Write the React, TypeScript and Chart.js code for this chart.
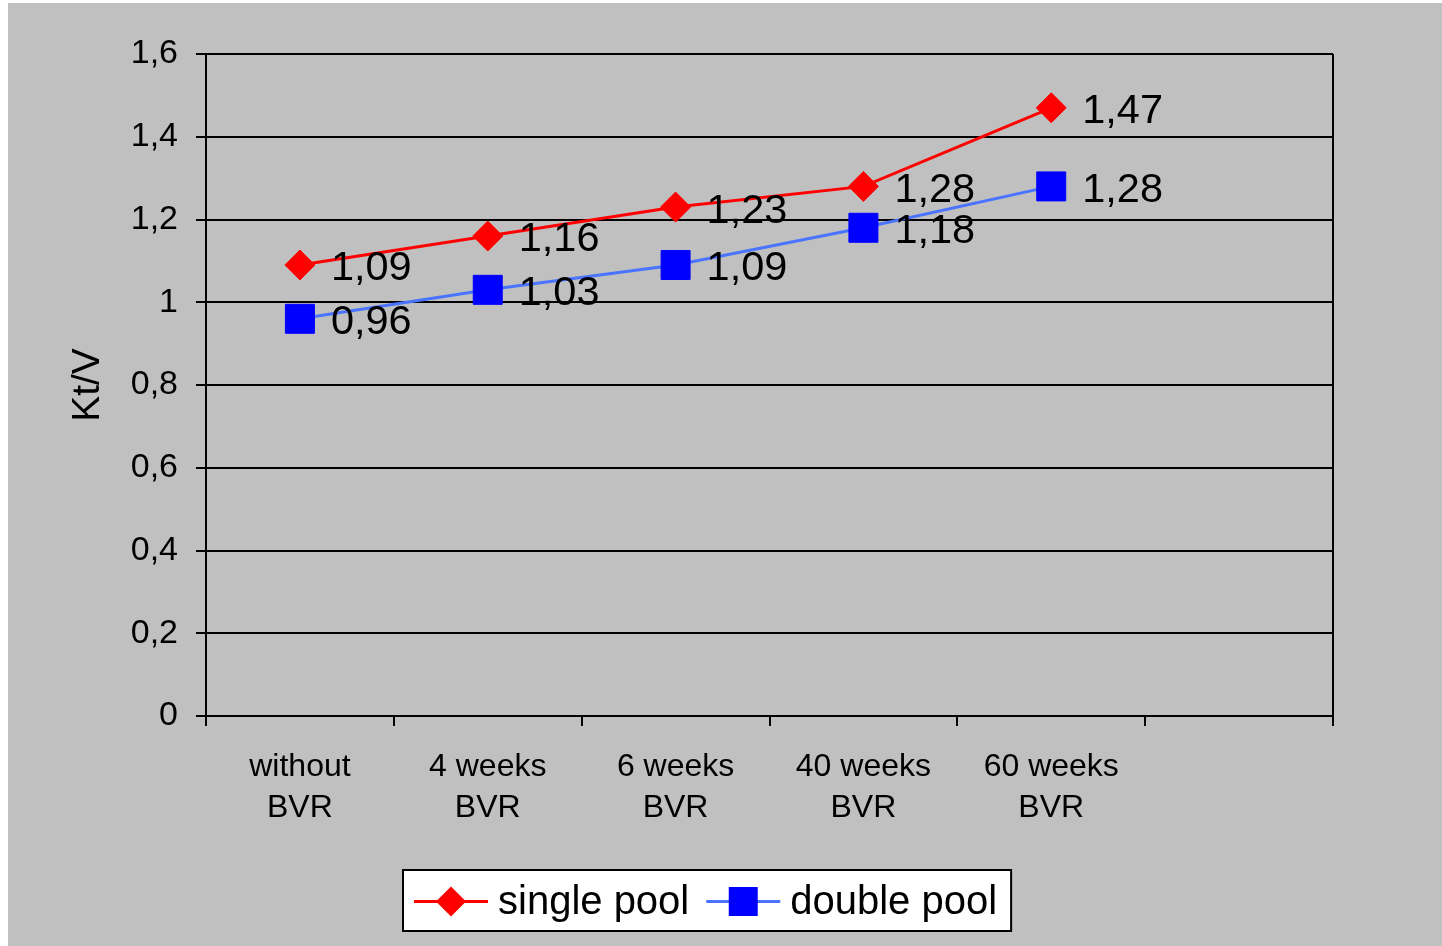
import React, { useEffect, useRef } from "react";
import { Chart, registerables } from "chart.js";

Chart.register(...registerables);

const categories: (string | string[])[] = [
  ["without", "BVR"],
  ["4 weeks", "BVR"],
  ["6 weeks", "BVR"],
  ["40 weeks", "BVR"],
  ["60 weeks", "BVR"],
  "",
];
const singlePool = [1.09, 1.16, 1.23, 1.28, 1.47];
const doublePool = [0.96, 1.03, 1.09, 1.18, 1.28];
const seriesNames = ["single pool", "double pool"];
const yTitle = "Kt/V";
const yMin = 0;
const yMax = 1.6;
const yStep = 0.2;

const FONT = "'Liberation Sans', Arial, sans-serif";
const fmt = (v: number) => String(Math.round(v * 100) / 100).replace(".", ",");

const dataLabelPlugin = {
  id: "dataLabels",
  afterDatasetsDraw(chart: any) {
    const ctx = chart.ctx;
    ctx.save();
    ctx.font = `41.5px ${FONT}`;
    ctx.fillStyle = "#000";
    ctx.textAlign = "left";
    ctx.textBaseline = "middle";
    chart.data.datasets.forEach((ds: any, di: number) => {
      const meta = chart.getDatasetMeta(di);
      meta.data.forEach((pt: any, i: number) => {
        ctx.fillText(fmt(ds.data[i]), pt.x + 31, pt.y + 4);
      });
    });
    ctx.restore();
  },
};

const frameBorderPlugin = {
  id: "frameBorder",
  afterDatasetsDraw(chart: any) {
    const { ctx, chartArea } = chart;
    ctx.save();
    ctx.strokeStyle = "#000";
    ctx.lineWidth = 2;
    ctx.beginPath();
    ctx.moveTo(chartArea.right, chartArea.top);
    ctx.lineTo(chartArea.right, chartArea.bottom);
    ctx.stroke();
    ctx.restore();
  },
};

function drawMarker(ctx: CanvasRenderingContext2D, style: string, r: number, x: number, y: number) {
  ctx.beginPath();
  if (style === "rectRot") {
    ctx.moveTo(x, y - r);
    ctx.lineTo(x + r, y);
    ctx.lineTo(x, y + r);
    ctx.lineTo(x - r, y);
    ctx.closePath();
  } else {
    const s = r * Math.SQRT1_2;
    ctx.rect(x - s, y - s, 2 * s, 2 * s);
  }
  ctx.fill();
}

const customLegendPlugin = {
  id: "customLegend",
  afterDraw(chart: any) {
    const ctx = chart.ctx;
    const boxLeft = 395;
    const boxTop = 867;
    const boxH = 61;
    const cy = boxTop + boxH / 2 + 1;
    ctx.save();
    ctx.font = `40px ${FONT}`;
    let x = boxLeft + 11;
    const items = chart.data.datasets.map((ds: any) => ({
      text: ds.label,
      line: ds.borderColor,
      fill: ds.pointBackgroundColor,
      style: ds.pointStyle,
      radius: ds.pointRadius,
      w: ctx.measureText(ds.label).width,
    }));
    const lineLen = 74;
    let total = 11;
    items.forEach((it: any, i: number) => {
      total += lineLen + 10 + it.w + (i < items.length - 1 ? 17 : 14);
    });
    ctx.fillStyle = "#fff";
    ctx.fillRect(boxLeft, boxTop, total, boxH);
    ctx.strokeStyle = "#000";
    ctx.lineWidth = 2;
    ctx.strokeRect(boxLeft, boxTop, total, boxH);
    items.forEach((it: any) => {
      ctx.strokeStyle = it.line;
      ctx.lineWidth = 3;
      ctx.beginPath();
      ctx.moveTo(x, cy);
      ctx.lineTo(x + lineLen, cy);
      ctx.stroke();
      ctx.fillStyle = it.fill;
      drawMarker(ctx, it.style, it.radius, x + lineLen / 2, cy);
      ctx.fillStyle = "#000";
      ctx.textAlign = "left";
      ctx.textBaseline = "middle";
      ctx.fillText(it.text, x + lineLen + 10, cy + 1);
      x += lineLen + 10 + it.w + 17;
    });
    ctx.restore();
  },
};

export default function App() {
  const ref = useRef<HTMLCanvasElement | null>(null);
  useEffect(() => {
    document.body.style.margin = "0";
    document.body.style.overflow = "hidden";
    const canvas = ref.current!;
    const chart = new Chart(canvas, {
      type: "line",
      data: {
        labels: categories,
        datasets: [
          {
            label: seriesNames[0],
            data: singlePool,
            borderColor: "#FF0000",
            backgroundColor: "#FF0000",
            borderWidth: 3,
            pointStyle: "rectRot",
            pointRadius: 15,
            pointHoverRadius: 15,
            pointBackgroundColor: "#FF0000",
            pointBorderColor: "#FF0000",
            pointBorderWidth: 1,
            tension: 0,
          },
          {
            label: seriesNames[1],
            data: doublePool,
            borderColor: "#4A73FF",
            backgroundColor: "#0000FF",
            borderWidth: 3,
            pointStyle: "rect",
            pointRadius: 20.5,
            pointHoverRadius: 20.5,
            pointBackgroundColor: "#0000FF",
            pointBorderColor: "#0000FF",
            pointBorderWidth: 1,
            tension: 0,
          },
        ],
      },
      options: {
        responsive: false,
        animation: false,
        devicePixelRatio: 1,
        layout: { padding: { left: 0, top: 51, right: 109, bottom: 110 } },
        plugins: {
          legend: { display: false },
          tooltip: { enabled: false },
        },
        scales: {
          x: {
            type: "category",
            offset: true,
            grid: {
              display: true,
              drawOnChartArea: false,
              drawTicks: true,
              tickLength: 10,
              color: "#000",
              lineWidth: 2,
              offset: true,
            },
            border: { display: true, color: "#000", width: 2 },
            ticks: {
              color: "#000",
              font: { family: FONT, size: 32, lineHeight: 1.28 },
              padding: 21,
              maxRotation: 0,
              minRotation: 0,
              autoSkip: false,
            },
            afterFit: (scale: any) => {
              scale.height = 120;
            },
          },
          y: {
            min: yMin,
            max: yMax,
            grid: {
              display: true,
              drawTicks: true,
              tickLength: 10,
              color: "#000",
              lineWidth: 2,
            },
            border: { display: true, color: "#000", width: 2 },
            ticks: {
              stepSize: yStep,
              color: "#000",
              font: { family: FONT, size: 34 },
              padding: 18,
              callback: (v: any) => fmt(Number(v)),
            },
            title: {
              display: true,
              text: yTitle,
              color: "#000",
              font: { family: FONT, size: 39, lineHeight: 1.2 },
              padding: { top: 57, bottom: 0 },
            },
            afterFit: (scale: any) => {
              scale.width = 198;
            },
          },
        },
      },
      plugins: [frameBorderPlugin, dataLabelPlugin, customLegendPlugin],
    } as any);
    return () => chart.destroy();
  }, []);
  return (
    <div
      style={{
        position: "absolute",
        left: 8,
        top: 3,
        width: 1434,
        height: 943,
        background: "#C0C0C0",
      }}
    >
      <canvas ref={ref} width={1434} height={943} style={{ display: "block" }} />
    </div>
  );
}
